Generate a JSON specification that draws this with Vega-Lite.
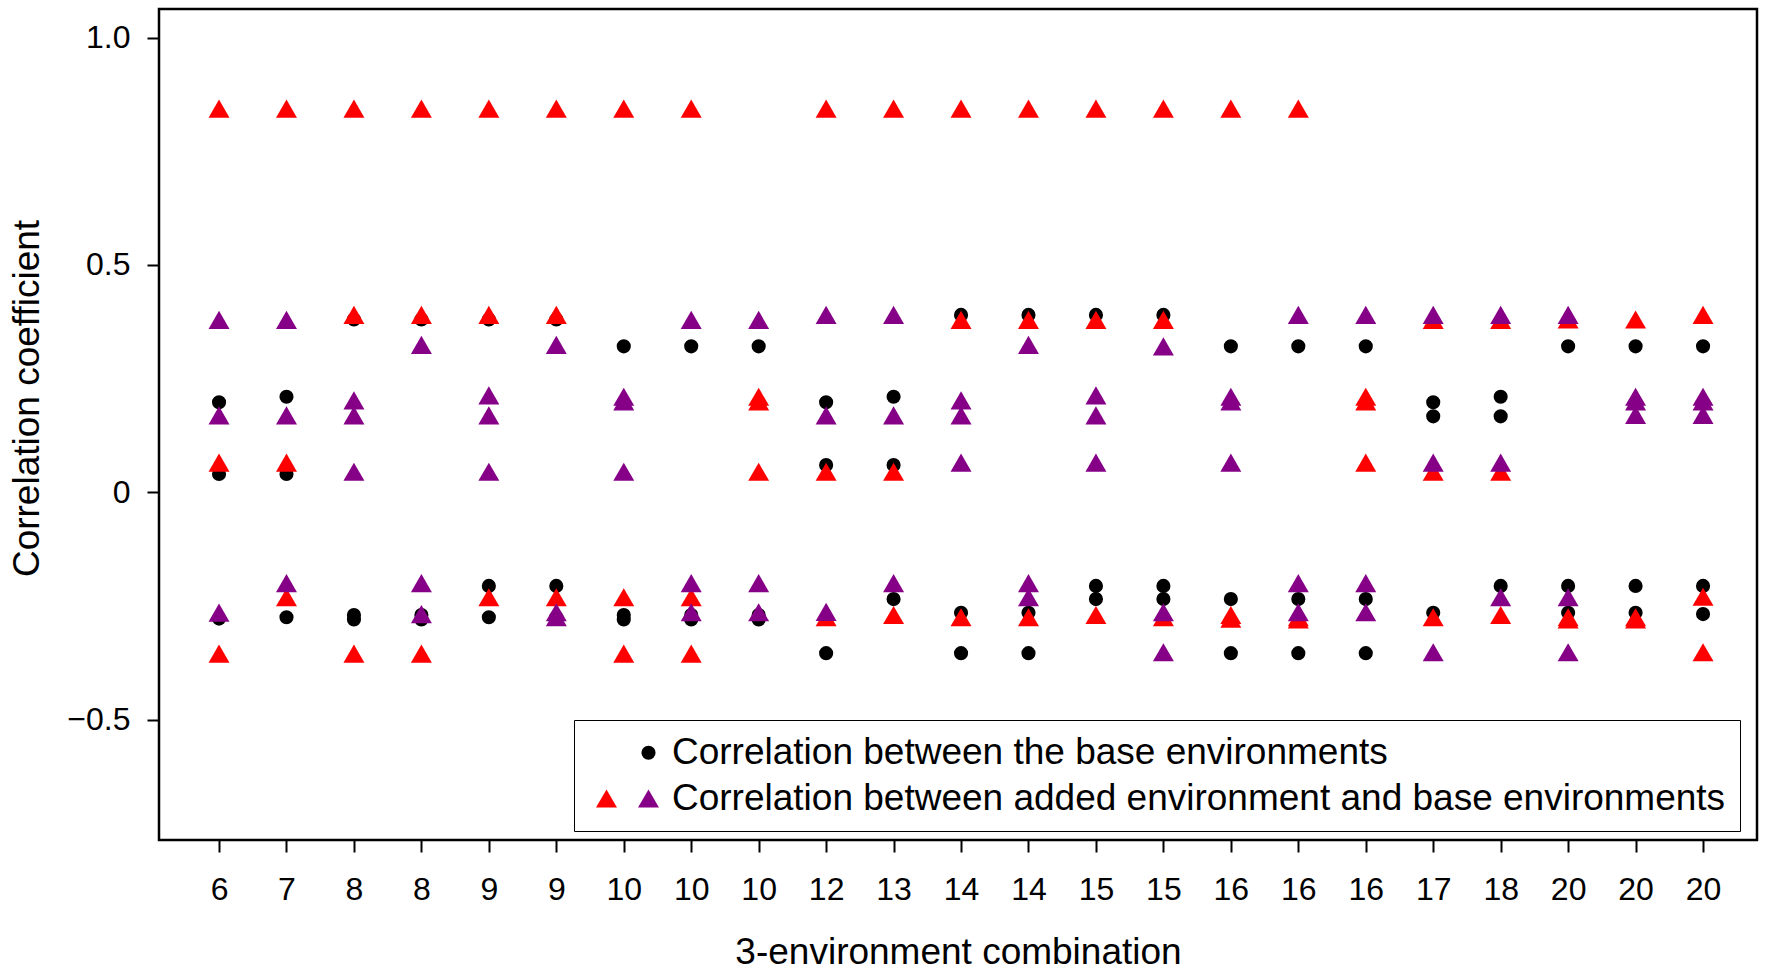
{
  "$schema": "https://vega.github.io/schema/vega-lite/v6.json",
  "width": 1598,
  "height": 831,
  "autosize": {"type": "none"},
  "padding": {"left": 159, "top": 9, "right": 15, "bottom": 131},
  "background": "white",
  "config": {
    "view": {"stroke": "black", "strokeWidth": 2.5},
    "font": "Liberation Sans"
  },
  "data": {
    "values": [
      {"i":1,"s":"base","v":0.198},{"i":1,"s":"base","v":0.04},{"i":1,"s":"base","v":-0.278},
      {"i":2,"s":"base","v":0.21},{"i":2,"s":"base","v":0.04},{"i":2,"s":"base","v":-0.275},
      {"i":3,"s":"base","v":0.38},{"i":3,"s":"base","v":-0.27},{"i":3,"s":"base","v":-0.28},
      {"i":4,"s":"base","v":0.38},{"i":4,"s":"base","v":-0.27},{"i":4,"s":"base","v":-0.28},
      {"i":5,"s":"base","v":0.38},{"i":5,"s":"base","v":-0.206},{"i":5,"s":"base","v":-0.275},
      {"i":6,"s":"base","v":0.38},{"i":6,"s":"base","v":-0.206},{"i":6,"s":"base","v":-0.275},
      {"i":7,"s":"base","v":0.321},{"i":7,"s":"base","v":-0.27},{"i":7,"s":"base","v":-0.28},
      {"i":8,"s":"base","v":0.321},{"i":8,"s":"base","v":-0.27},{"i":8,"s":"base","v":-0.28},
      {"i":9,"s":"base","v":0.321},{"i":9,"s":"base","v":-0.27},{"i":9,"s":"base","v":-0.28},
      {"i":10,"s":"base","v":0.198},{"i":10,"s":"base","v":0.06},{"i":10,"s":"base","v":-0.354},
      {"i":11,"s":"base","v":0.21},{"i":11,"s":"base","v":0.06},{"i":11,"s":"base","v":-0.235},
      {"i":12,"s":"base","v":0.39},{"i":12,"s":"base","v":-0.265},{"i":12,"s":"base","v":-0.354},
      {"i":13,"s":"base","v":0.39},{"i":13,"s":"base","v":-0.265},{"i":13,"s":"base","v":-0.354},
      {"i":14,"s":"base","v":0.39},{"i":14,"s":"base","v":-0.206},{"i":14,"s":"base","v":-0.235},
      {"i":15,"s":"base","v":0.39},{"i":15,"s":"base","v":-0.206},{"i":15,"s":"base","v":-0.235},
      {"i":16,"s":"base","v":0.321},{"i":16,"s":"base","v":-0.235},{"i":16,"s":"base","v":-0.354},
      {"i":17,"s":"base","v":0.321},{"i":17,"s":"base","v":-0.235},{"i":17,"s":"base","v":-0.354},
      {"i":18,"s":"base","v":0.321},{"i":18,"s":"base","v":-0.235},{"i":18,"s":"base","v":-0.354},
      {"i":19,"s":"base","v":0.198},{"i":19,"s":"base","v":0.167},{"i":19,"s":"base","v":-0.265},
      {"i":20,"s":"base","v":0.21},{"i":20,"s":"base","v":0.167},{"i":20,"s":"base","v":-0.206},
      {"i":21,"s":"base","v":0.321},{"i":21,"s":"base","v":-0.206},{"i":21,"s":"base","v":-0.265},
      {"i":22,"s":"base","v":0.321},{"i":22,"s":"base","v":-0.206},{"i":22,"s":"base","v":-0.265},
      {"i":23,"s":"base","v":0.321},{"i":23,"s":"base","v":-0.206},{"i":23,"s":"base","v":-0.268},

      {"i":1,"s":"red","v":0.844},{"i":1,"s":"red","v":0.065},{"i":1,"s":"red","v":-0.355},
      {"i":2,"s":"red","v":0.844},{"i":2,"s":"red","v":0.065},{"i":2,"s":"red","v":-0.231},
      {"i":3,"s":"red","v":0.844},{"i":3,"s":"red","v":0.39},{"i":3,"s":"red","v":-0.355},
      {"i":4,"s":"red","v":0.844},{"i":4,"s":"red","v":0.39},{"i":4,"s":"red","v":-0.355},
      {"i":5,"s":"red","v":0.844},{"i":5,"s":"red","v":0.39},{"i":5,"s":"red","v":-0.231},
      {"i":6,"s":"red","v":0.844},{"i":6,"s":"red","v":0.39},{"i":6,"s":"red","v":-0.231},
      {"i":7,"s":"red","v":0.844},{"i":7,"s":"red","v":-0.231},{"i":7,"s":"red","v":-0.355},
      {"i":8,"s":"red","v":0.844},{"i":8,"s":"red","v":-0.231},{"i":8,"s":"red","v":-0.355},
      {"i":9,"s":"red","v":0.21},{"i":9,"s":"red","v":0.2},{"i":9,"s":"red","v":0.045},
      {"i":10,"s":"red","v":0.844},{"i":10,"s":"red","v":0.045},{"i":10,"s":"red","v":-0.275},
      {"i":11,"s":"red","v":0.844},{"i":11,"s":"red","v":0.045},{"i":11,"s":"red","v":-0.27},
      {"i":12,"s":"red","v":0.844},{"i":12,"s":"red","v":0.379},{"i":12,"s":"red","v":-0.275},
      {"i":13,"s":"red","v":0.844},{"i":13,"s":"red","v":0.379},{"i":13,"s":"red","v":-0.275},
      {"i":14,"s":"red","v":0.844},{"i":14,"s":"red","v":0.379},{"i":14,"s":"red","v":-0.27},
      {"i":15,"s":"red","v":0.844},{"i":15,"s":"red","v":0.379},{"i":15,"s":"red","v":-0.275},
      {"i":16,"s":"red","v":0.844},{"i":16,"s":"red","v":-0.27},{"i":16,"s":"red","v":-0.278},
      {"i":17,"s":"red","v":0.844},{"i":17,"s":"red","v":-0.275},{"i":17,"s":"red","v":-0.28},
      {"i":18,"s":"red","v":0.21},{"i":18,"s":"red","v":0.2},{"i":18,"s":"red","v":0.065},
      {"i":19,"s":"red","v":0.379},{"i":19,"s":"red","v":0.045},{"i":19,"s":"red","v":-0.275},
      {"i":20,"s":"red","v":0.379},{"i":20,"s":"red","v":0.045},{"i":20,"s":"red","v":-0.27},
      {"i":21,"s":"red","v":0.38},{"i":21,"s":"red","v":-0.275},{"i":21,"s":"red","v":-0.28},
      {"i":22,"s":"red","v":0.38},{"i":22,"s":"red","v":-0.275},{"i":22,"s":"red","v":-0.28},
      {"i":23,"s":"red","v":0.39},{"i":23,"s":"red","v":-0.23},{"i":23,"s":"red","v":-0.352},

      {"i":1,"s":"purple","v":0.379},{"i":1,"s":"purple","v":0.169},{"i":1,"s":"purple","v":-0.265},
      {"i":2,"s":"purple","v":0.379},{"i":2,"s":"purple","v":0.169},{"i":2,"s":"purple","v":-0.2},
      {"i":3,"s":"purple","v":0.202},{"i":3,"s":"purple","v":0.169},{"i":3,"s":"purple","v":0.045},
      {"i":4,"s":"purple","v":0.324},{"i":4,"s":"purple","v":-0.2},{"i":4,"s":"purple","v":-0.268},
      {"i":5,"s":"purple","v":0.213},{"i":5,"s":"purple","v":0.169},{"i":5,"s":"purple","v":0.045},
      {"i":6,"s":"purple","v":0.324},{"i":6,"s":"purple","v":-0.264},{"i":6,"s":"purple","v":-0.275},
      {"i":7,"s":"purple","v":0.21},{"i":7,"s":"purple","v":0.2},{"i":7,"s":"purple","v":0.045},
      {"i":8,"s":"purple","v":0.379},{"i":8,"s":"purple","v":-0.2},{"i":8,"s":"purple","v":-0.264},
      {"i":9,"s":"purple","v":0.379},{"i":9,"s":"purple","v":-0.2},{"i":9,"s":"purple","v":-0.264},
      {"i":10,"s":"purple","v":0.39},{"i":10,"s":"purple","v":0.169},{"i":10,"s":"purple","v":-0.263},
      {"i":11,"s":"purple","v":0.39},{"i":11,"s":"purple","v":0.169},{"i":11,"s":"purple","v":-0.2},
      {"i":12,"s":"purple","v":0.202},{"i":12,"s":"purple","v":0.169},{"i":12,"s":"purple","v":0.065},
      {"i":13,"s":"purple","v":0.324},{"i":13,"s":"purple","v":-0.2},{"i":13,"s":"purple","v":-0.231},
      {"i":14,"s":"purple","v":0.213},{"i":14,"s":"purple","v":0.169},{"i":14,"s":"purple","v":0.065},
      {"i":15,"s":"purple","v":0.321},{"i":15,"s":"purple","v":-0.264},{"i":15,"s":"purple","v":-0.352},
      {"i":16,"s":"purple","v":0.21},{"i":16,"s":"purple","v":0.2},{"i":16,"s":"purple","v":0.065},
      {"i":17,"s":"purple","v":0.39},{"i":17,"s":"purple","v":-0.2},{"i":17,"s":"purple","v":-0.264},
      {"i":18,"s":"purple","v":0.39},{"i":18,"s":"purple","v":-0.2},{"i":18,"s":"purple","v":-0.264},
      {"i":19,"s":"purple","v":0.39},{"i":19,"s":"purple","v":0.065},{"i":19,"s":"purple","v":-0.352},
      {"i":20,"s":"purple","v":0.39},{"i":20,"s":"purple","v":0.065},{"i":20,"s":"purple","v":-0.231},
      {"i":21,"s":"purple","v":0.39},{"i":21,"s":"purple","v":-0.231},{"i":21,"s":"purple","v":-0.352},
      {"i":22,"s":"purple","v":0.21},{"i":22,"s":"purple","v":0.2},{"i":22,"s":"purple","v":0.17},
      {"i":23,"s":"purple","v":0.21},{"i":23,"s":"purple","v":0.2},{"i":23,"s":"purple","v":0.17}
    ]
  },
  "mark": {"type": "point", "filled": true, "opacity": 1, "strokeWidth": 0},
  "encoding": {
    "x": {
      "field": "i",
      "type": "quantitative",
      "scale": {"domain": [0.11, 23.8], "nice": false, "zero": false},
      "axis": {
        "values": [1,2,3,4,5,6,7,8,9,10,11,12,13,14,15,16,17,18,19,20,21,22,23],
        "labelExpr": "['6','7','8','8','9','9','10','10','10','12','13','14','14','15','15','16','16','16','17','18','20','20','20'][datum.value - 1]",
        "domain": false,
        "grid": false,
        "tickSize": 12,
        "tickWidth": 2,
        "tickColor": "black",
        "labelFontSize": 32,
        "labelColor": "black",
        "labelPadding": 22,
        "labelFlush": false,
        "labelOverlap": false,
        "title": "3-environment combination",
        "titleFontSize": 37,
        "titleFontWeight": "normal",
        "titleColor": "black",
        "titleBaseline": "alphabetic",
        "titleY": 123
      }
    },
    "y": {
      "field": "v",
      "type": "quantitative",
      "scale": {"domain": [-0.765, 1.063], "nice": false, "zero": false},
      "axis": {
        "values": [-0.5, 0, 0.5, 1],
        "labelExpr": "datum.value == 0 ? '0' : format(datum.value, '.1f')",
        "domain": false,
        "grid": false,
        "tickSize": 12,
        "tickWidth": 2,
        "tickColor": "black",
        "labelFontSize": 32,
        "labelColor": "black",
        "labelPadding": 17,
        "labelFlush": false,
        "labelOverlap": false,
        "title": "Correlation coefficient",
        "titleFontSize": 37,
        "titleFontWeight": "normal",
        "titleColor": "black",
        "titleBaseline": "alphabetic",
        "titleAlign": "center",
        "titleX": -121,
        "titleY": 389
      }
    },
    "color": {
      "field": "s",
      "type": "nominal",
      "scale": {"domain": ["pad", "red", "base", "purple"], "range": ["transparent", "#ff0000", "black", "#850087"]},
      "legend": {
        "orient": "none",
        "legendX": 415,
        "legendY": 711,
        "title": null,
        "direction": "vertical",
        "columns": 2,
        "padding": 14,
        "rowPadding": 8,
        "columnPadding": 0,
        "labelOffset": 5,
        "labelFontSize": 37,
        "labelColor": "black",
        "labelLimit": 1400,
        "symbolStrokeWidth": 0,
        "strokeColor": "black",
        "labelExpr": "datum.label == 'base' ? 'Correlation between the base environments' : datum.label == 'purple' ? 'Correlation between added environment and base environments' : ''",
        "encode": {"legend": {"update": {"strokeWidth": {"value": 2.5}}}}
      }
    },
    "shape": {
      "field": "s",
      "type": "nominal",
      "scale": {"domain": ["pad", "red", "base", "purple"], "range": ["circle", "triangle-up", "circle", "triangle-up"]}
    },
    "size": {
      "field": "s",
      "type": "nominal",
      "scale": {"type": "ordinal", "domain": ["pad", "red", "base", "purple"], "range": [200, 440, 200, 440]}
    }
  }
}
